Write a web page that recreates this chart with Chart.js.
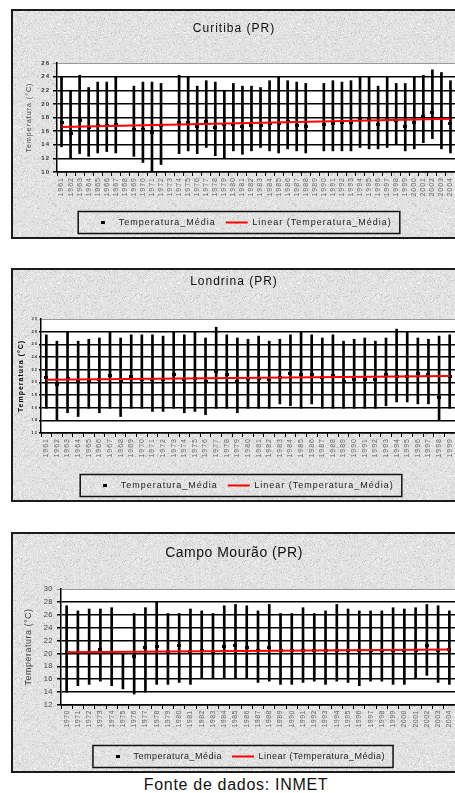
<!DOCTYPE html>
<html>
<head>
<meta charset="utf-8">
<script src="https://cdn.jsdelivr.net/npm/chart.js@4.4.1/dist/chart.umd.min.js"></script>
<style>
html, body { margin: 0; padding: 0; background: #fff; }
body { width: 455px; height: 793px; overflow: hidden; position: relative; font-family: "Liberation Sans", Arial, sans-serif; }
.panel { position: absolute; left: 11px; width: 450px; border: 2px solid #1b1b1b; background-color: #e0e0e0; }
.panel canvas { display: block; }
#fonte { position: absolute; left: 0; width: 472px; top: 776px; text-align: center; font-size: 16px; letter-spacing: 0.7px; color: #111; }
</style>
</head>
<body>
<div class="panel" style="top:9px;height:226px"><canvas id="curitiba"></canvas></div>
<div class="panel" style="top:268px;height:230px"><canvas id="londrina"></canvas></div>
<div class="panel" style="top:532px;height:237px"><canvas id="campo"></canvas></div>
<div id="fonte">Fonte de dados: INMET</div>

<script>
// Curitiba (PR) 1961-2004
const curitibaAnos = ['1961','1962','1963','1964','1965','1966','1967','1968','1969','1970',
    '1971','1972','1973','1974','1975','1976','1977','1978','1979','1980',
    '1981','1982','1983','1984','1985','1986','1987','1988','1989','1990',
    '1991','1992','1993','1994','1995','1996','1997','1998','1999','2000',
    '2001','2002','2003','2004'];
const curitibaMin = [13.7, 12.0, 12.7, 12.3, 12.8, 13.0, 12.8, null, 12.3, 11.4,
    10.0, 11.1, null, 12.7, 13.1, 12.7, 13.6, 12.4, 12.0, 13.1,
    12.6, 13.1, 13.6, 13.1, 12.8, 13.4, 13.1, 12.8, null, 13.1,
    13.1, 13.1, 13.1, 13.6, 13.4, 13.4, 13.6, 14.0, 13.1, 13.4,
    14.3, 14.9, 13.4, 12.8];
const curitibaMax = [24.0, 22.0, 24.2, 22.4, 23.2, 23.2, 24.0, null, 22.6, 23.2,
    23.2, 23.0, null, 24.2, 24.0, 22.6, 23.4, 23.2, 22.0, 23.0,
    22.6, 22.6, 22.4, 23.4, 24.0, 23.4, 23.2, 23.0, null, 23.0,
    23.4, 23.2, 23.4, 24.0, 24.0, 22.6, 24.0, 23.0, 23.0, 24.0,
    24.2, 25.0, 24.6, 23.4];
const curitibaMedia = [17.3, 15.6, 17.5, 16.6, 16.8, 16.8, 17.0, null, 16.3, 16.3,
    15.8, 16.8, null, 17.2, 17.2, 16.7, 17.4, 16.6, 16.9, 16.9,
    16.7, 16.8, 16.8, 17.1, 17.1, 17.4, 16.8, 16.7, null, 17.0,
    17.1, 17.3, 17.2, 17.7, 17.7, 17.0, 17.7, 17.5, 16.7, 17.2,
    18.2, 18.7, 17.8, 17.1];
const curitibaLinear = [16.6, 17.8]; // first and last year

// Londrina (PR) 1961-1999
const londrinaAnos = ['1961','1962','1963','1964','1965','1966','1967','1968','1969','1970',
    '1971','1972','1973','1974','1975','1976','1977','1978','1979','1980',
    '1981','1982','1983','1984','1985','1986','1987','1988','1989','1990',
    '1991','1992','1993','1994','1995','1996','1997','1998','1999'];
const londrinaMin = [15.9, 14.0, 15.2, 14.6, 15.9, 15.2, 15.9, 14.6, 15.9, 15.9,
    15.4, 15.4, 15.9, 15.2, 15.4, 14.9, 15.9, 15.9, 15.2, 15.9,
    15.9, 15.9, 16.6, 16.3, 15.9, 16.6, 15.9, 15.9, 15.9, 15.9,
    15.9, 15.9, 16.3, 16.9, 16.9, 16.6, 16.6, 14.0, 15.9];
const londrinaMax = [27.5, 26.5, 28.0, 26.5, 26.8, 27.0, 28.0, 27.0, 27.5, 27.5,
    27.5, 27.3, 28.0, 27.5, 28.0, 27.0, 28.7, 27.5, 27.0, 26.8,
    27.3, 26.5, 26.8, 27.5, 28.0, 27.5, 27.0, 27.5, 26.5, 26.8,
    27.0, 26.5, 27.0, 28.4, 28.0, 27.0, 26.8, 27.3, 27.5];
const londrinaMedia = [20.8, 19.6, 20.6, 20.1, 20.1, 20.5, 21.1, 20.1, 21.0, 20.5,
    20.5, 20.5, 21.3, 20.5, 20.6, 20.1, 21.7, 21.3, 20.1, 20.6,
    20.6, 20.5, 20.7, 21.4, 21.3, 21.3, 20.7, 21.1, 20.2, 20.5,
    20.5, 20.5, 21.3, 21.0, 21.0, 21.4, 21.3, 17.6, 20.9];
const londrinaLinear = [20.4, 21.0];

// Campo Mourão (PR) 1970-2004
const campoAnos = ['1970','1971','1972','1973','1974','1975','1976','1977','1978','1979',
    '1980','1981','1982','1983','1984','1985','1986','1987','1988','1989',
    '1990','1991','1992','1993','1994','1995','1996','1997','1998','1999',
    '2000','2001','2002','2003','2004'];
const campoMin = [14.0, 15.0, 15.2, 15.7, 15.0, 14.5, 13.7, 14.0, 15.2, 15.2,
    15.5, 15.2, 16.1, 16.1, 16.1, 16.1, 16.1, 15.5, 15.7, 15.2,
    15.2, 15.5, 15.7, 15.2, 15.7, 15.5, 15.0, 15.7, 15.7, 15.2,
    15.2, 16.1, 16.6, 15.5, 15.2];
const campoMax = [27.4, 26.6, 26.9, 26.9, 27.1, 20.0, 26.2, 27.1, 28.0, 26.2,
    26.2, 26.9, 26.6, 26.2, 27.4, 27.6, 27.4, 26.6, 27.6, 26.2,
    26.2, 27.1, 26.2, 26.6, 27.6, 26.9, 26.6, 26.6, 26.6, 27.1,
    26.9, 27.1, 27.6, 27.4, 26.6];
const campoMedia = [20.2, 20.2, 20.2, 20.6, 20.2, null, 19.6, 20.9, 21.1, 20.3,
    21.3, 20.3, 20.4, 20.2, 21.1, 21.3, 20.9, 20.4, 20.9, 20.4,
    20.4, 20.5, 20.5, 20.4, 20.5, 20.4, 20.4, 20.4, 20.4, 20.4,
    20.5, 20.4, 21.3, 20.4, 20.6];
const campoLinear = [20.2, 20.6];

const fonte = '"Liberation Sans", Arial, sans-serif';

// grainy panel background (fixed seed, decoration only)
function granito() {
    const c = document.createElement('canvas');
    c.width = 120; c.height = 120;
    const g = c.getContext('2d');
    g.fillStyle = '#e2e2e2';
    g.fillRect(0, 0, 120, 120);
    let s = 12345;
    const next = () => (s = (s * 16807) % 2147483647);
    for (let i = 0; i < 5200; i++) {
        const x = next() % 120, y = next() % 120;
        const v = 196 + next() % 56;
        g.fillStyle = 'rgb(' + v + ',' + v + ',' + v + ')';
        g.fillRect(x, y, 1, 1);
    }
    return c.toDataURL();
}
const textura = granito();
document.querySelectorAll('.panel').forEach(p => p.style.backgroundImage = 'url(' + textura + ')');

// small black dash used for the mean marker
const marca = document.createElement('canvas');
marca.width = 4; marca.height = 3;
marca.getContext('2d').fillRect(0, 0, 4, 3);

const fundoBranco = {
    id: 'fundoBranco',
    beforeDraw(chart) {
        const { ctx, chartArea: a } = chart;
        ctx.save();
        ctx.fillStyle = '#fff';
        ctx.fillRect(a.left, a.top, a.width, a.height);
        ctx.restore();
    }
};

const espacamento = {
    id: 'espacamento',
    beforeLayout(chart, args, opts) { chart.ctx.letterSpacing = opts.px + 'px'; },
    beforeDraw(chart, args, opts) { chart.ctx.letterSpacing = opts.px + 'px'; }
};

// box around the legend, shifted a bit to the right like the original
const caixaLegenda = {
    id: 'caixaLegenda',
    afterLayout(chart, args, opts) {
        chart.legend.left += opts.dx;
        chart.legend.right += opts.dx;
    },
    afterDraw(chart, args, opts) {
        const lg = chart.legend;
        const ctx = chart.ctx;
        const pad = lg.options.labels.padding;
        const row = lg.lineWidths[0];
        const x0 = (lg.left + pad + lg.right - row) / 2;
        const cy = lg.top + pad + lg.options.labels.font.size / 2;
        ctx.save();
        ctx.strokeStyle = '#111';
        ctx.lineWidth = 1.5;
        ctx.strokeRect(x0 - 14, cy - 11, row - pad + 14 + 8, 22);
        ctx.restore();
    }
};

function grafico(id, anos, tmin, tmax, media, linear, lay) {
    const canvas = document.getElementById(id);
    canvas.width = 450;
    canvas.height = lay.h;
    const faixas = anos.map((a, i) => tmin[i] == null ? null : [tmin[i], tmax[i]]);

    return new Chart(canvas, {
        type: 'bar',
        data: {
            labels: anos,
            datasets: [{
                label: 'Faixa',
                data: faixas,
                backgroundColor: '#000',
                barThickness: 2,
                order: 3
            }, {
                type: 'line',
                label: 'Temperatura_Média',
                data: media,
                showLine: false,
                pointStyle: marca,
                pointRadius: 2,
                backgroundColor: '#000',
                borderColor: '#000',
                order: 2
            }, {
                type: 'line',
                label: 'Linear (Temperatura_Média)',
                data: [{ x: anos[0], y: linear[0] }, { x: anos[anos.length - 1], y: linear[1] }],
                borderColor: '#ff0000',
                backgroundColor: '#ff0000',
                borderWidth: 2,
                pointRadius: 0,
                pointStyle: 'line',
                order: 1
            }]
        },
        options: {
            responsive: false,
            animation: false,
            events: [],
            layout: { padding: { left: 0, right: 8, top: 0, bottom: 0 } },
            plugins: {
                espacamento: { px: lay.espaco },
                caixaLegenda: { dx: lay.dx },
                title: {
                    display: true,
                    text: lay.titulo,
                    color: '#111',
                    font: { family: fonte, size: lay.tFonte, weight: 'normal' },
                    padding: { top: lay.tTop, bottom: lay.tBottom }
                },
                legend: {
                    position: 'bottom',
                    labels: {
                        filter: it => it.datasetIndex > 0,
                        sort: (a, b) => a.datasetIndex - b.datasetIndex,
                        usePointStyle: true,
                        pointStyleWidth: 22,
                        padding: 10,
                        color: '#222',
                        font: { family: fonte, size: 9 }
                    }
                },
                tooltip: { enabled: false }
            },
            scales: {
                x: {
                    offset: true,
                    grid: { offset: true, drawOnChartArea: false, tickLength: 4, color: '#000', lineWidth: 1 },
                    border: { color: '#000', width: 1.5 },
                    ticks: {
                        autoSkip: false, minRotation: 90, maxRotation: 90, padding: 1,
                        color: '#666', font: { family: fonte, size: 7 }
                    },
                    afterFit: s => { s.height = lay.xAlt; }
                },
                y: {
                    min: lay.yMin,
                    max: lay.yMax,
                    ticks: {
                        stepSize: 2, padding: lay.yPad, color: lay.yCor,
                        font: { family: fonte, size: lay.yFonte, weight: lay.yPeso }
                    },
                    grid: {
                        color: c => c.tick && c.tick.value === lay.yMax ? '#999' : '#000',
                        lineWidth: c => c.tick && c.tick.value === lay.yMax ? 1 : 1.5,
                        tickLength: lay.yTick
                    },
                    border: { color: '#000', width: 1.5 },
                    title: {
                        display: true,
                        text: 'Temperatura (°C)',
                        color: lay.yTitCor,
                        font: { family: fonte, size: lay.yTitFonte, weight: lay.yTitPeso },
                        padding: { top: lay.yTitPad, bottom: 0 }
                    },
                    afterFit: s => { s.width = lay.yLarg; }
                }
            }
        },
        plugins: [fundoBranco, espacamento, caixaLegenda]
    });
}

grafico('curitiba', curitibaAnos, curitibaMin, curitibaMax, curitibaMedia, curitibaLinear, {
    h: 226, titulo: 'Curitiba (PR)', tFonte: 12, tTop: 10.8, tBottom: 26.8, espaco: 1,
    xAlt: 36, yMin: 10, yMax: 26, yPad: 3, yTick: 4, yCor: '#333', yFonte: 6, yPeso: 'bold',
    yTitCor: '#444', yTitFonte: 7, yTitPeso: 'normal', yTitPad: 11.8, yLarg: 44, dx: 8
});

grafico('londrina', londrinaAnos, londrinaMin, londrinaMax, londrinaMedia, londrinaLinear, {
    h: 230, titulo: 'Londrina (PR)', tFonte: 12, tTop: 4.8, tBottom: 29.8, espaco: 1,
    xAlt: 38, yMin: 12, yMax: 30, yPad: 1, yTick: 2, yCor: '#333', yFonte: 4, yPeso: 'bold',
    yTitCor: '#000', yTitFonte: 7, yTitPeso: 'bold', yTitPad: 3.8, yLarg: 28, dx: 10
});

grafico('campo', campoAnos, campoMin, campoMax, campoMedia, campoLinear, {
    h: 237, titulo: 'Campo Mourão (PR)', tFonte: 14, tTop: 10.6, tBottom: 27.6, espaco: 0.5,
    xAlt: 37, yMin: 12, yMax: 30, yPad: 4, yTick: 4, yCor: '#444', yFonte: 7.5, yPeso: 'normal',
    yTitCor: '#444', yTitFonte: 9, yTitPeso: 'normal', yTitPad: 10.6, yLarg: 48, dx: 12
});
</script>
</body>
</html>
